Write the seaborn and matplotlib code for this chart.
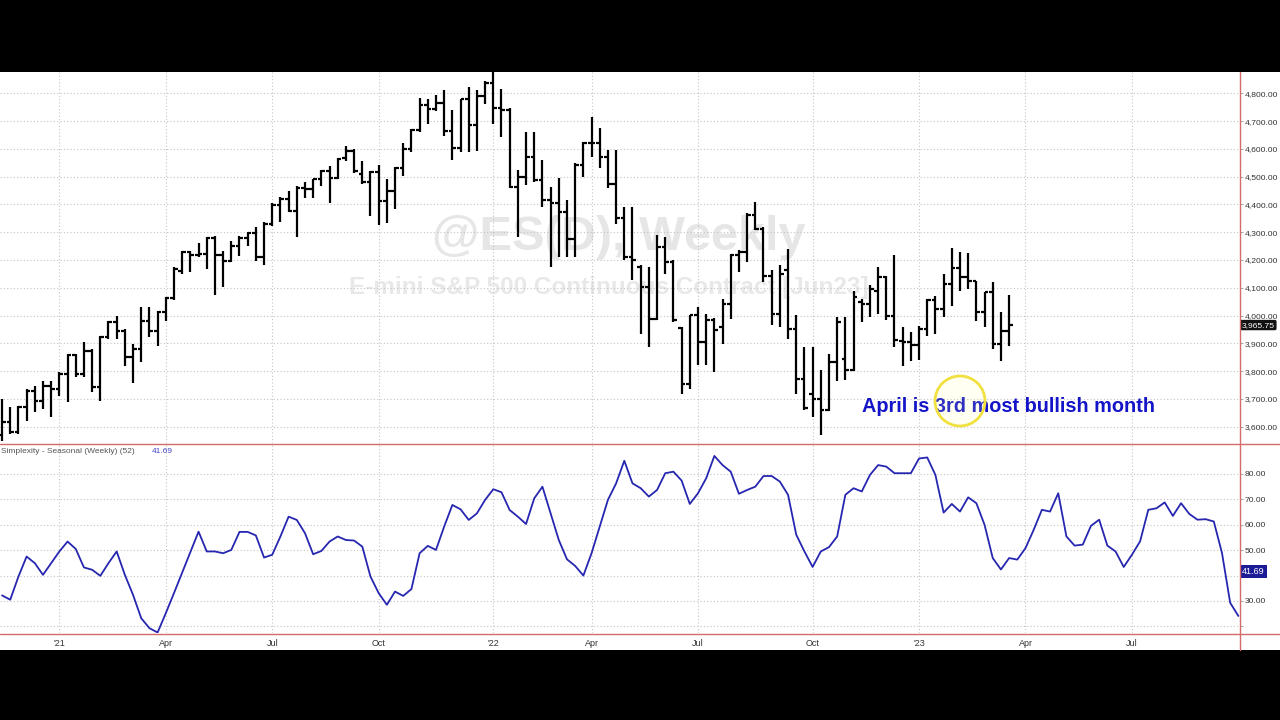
import numpy as np
import pandas as pd
import matplotlib
matplotlib.use("Agg")
import matplotlib.pyplot as plt
import matplotlib.transforms as mtransforms
from matplotlib.patches import Rectangle, Ellipse
from matplotlib.lines import Line2D
import seaborn as sns

# weekly bars, first bar dated Friday 2020-11-13
first_week = "2020-11-13"

opens = [3570, 3616, 3582, 3670, 3730, 3694, 3748, 3736, 3790, 3858,
         3790, 3874, 3742, 3922, 3975, 3946, 3850, 3880, 3982, 3946,
         4014, 4062, 4162, 4228, 4219, 4222, 4279, 4219, 4198, 4252,
         4279, 4297, 4210, 4330, 4399, 4420, 4378, 4459, 4454, 4490,
         4519, 4495, 4567, 4593, 4510, 4480, 4516, 4414, 4450, 4532,
         4600, 4667, 4757, 4745, 4766, 4663, 4603, 4778, 4687, 4790,
         4836, 4746, 4740, 4464, 4500, 4572, 4488, 4416, 4404, 4374,
         4277, 4542, 4622, 4622, 4572, 4473, 4350, 4211, 4175, 4103,
         3989, 4247, 4193, 3955, 3755, 4001, 3905, 3983, 3959, 4043,
         4217, 4229, 4362, 4313, 4142, 4007, 4163, 3953, 3773, 3719,
         3701, 3659, 3833, 3845, 3805, 4050, 4040, 4090, 4140, 4000,
         3910, 3903, 3895, 3950, 4055, 4023, 4112, 4170, 4140, 4123,
         4012, 4084, 3898, 3946]
highs = [3700, 3672, 3676, 3736, 3748, 3766, 3766, 3796, 3862, 3862,
         3904, 3880, 3928, 3980, 4000, 3952, 3898, 4030, 4030, 4018,
         4066, 4174, 4234, 4232, 4262, 4282, 4288, 4234, 4267, 4286,
         4300, 4318, 4336, 4405, 4426, 4450, 4468, 4480, 4492, 4525,
         4537, 4567, 4610, 4600, 4555, 4522, 4543, 4490, 4535, 4622,
         4670, 4783, 4781, 4795, 4811, 4739, 4781, 4823, 4811, 4845,
         4884, 4814, 4746, 4524, 4662, 4660, 4560, 4464, 4494, 4416,
         4548, 4626, 4716, 4674, 4596, 4596, 4392, 4392, 4181, 4175,
         4289, 4283, 4199, 3960, 4001, 4031, 4007, 3990, 4061, 4223,
         4235, 4368, 4410, 4318, 4163, 4181, 4241, 4001, 3887, 3887,
         3803, 3863, 3995, 3995, 4090, 4060, 4110, 4175, 4142, 4218,
         3960, 3940, 3964, 4060, 4072, 4150, 4245, 4230, 4225, 4125,
         4086, 4120, 4012, 4075]
lows = [3550, 3574, 3574, 3622, 3652, 3664, 3634, 3712, 3688, 3778,
        3778, 3724, 3694, 3916, 3916, 3820, 3757, 3834, 3922, 3892,
        3982, 4055, 4150, 4156, 4210, 4168, 4074, 4102, 4192, 4214,
        4252, 4198, 4183, 4322, 4336, 4372, 4282, 4423, 4423, 4468,
        4405, 4492, 4555, 4515, 4474, 4358, 4327, 4334, 4382, 4502,
        4589, 4661, 4691, 4735, 4646, 4559, 4589, 4589, 4591, 4760,
        4690, 4644, 4458, 4283, 4470, 4480, 4392, 4175, 4211, 4211,
        4211, 4500, 4572, 4530, 4458, 4331, 4199, 4127, 3935, 3887,
        3983, 4151, 3977, 3719, 3737, 3821, 3821, 3797, 3899, 3989,
        4157, 4193, 4307, 4121, 3965, 3959, 3917, 3719, 3660, 3635,
        3569, 3655, 3765, 3767, 3800, 3975, 3995, 4005, 3985, 3886,
        3820, 3835, 3840, 3925, 3932, 3995, 4036, 4090, 4096, 3982,
        3958, 3880, 3838, 3890]
closes = [3616, 3582, 3670, 3730, 3694, 3748, 3736, 3790, 3858, 3790,
          3874, 3742, 3922, 3975, 3946, 3850, 3880, 3982, 3946, 4014,
          4062, 4166, 4228, 4219, 4222, 4279, 4219, 4198, 4252, 4279,
          4297, 4210, 4330, 4399, 4420, 4378, 4459, 4454, 4490, 4519,
          4495, 4565, 4593, 4519, 4480, 4516, 4414, 4450, 4532, 4600,
          4667, 4757, 4745, 4766, 4663, 4603, 4778, 4687, 4790, 4836,
          4746, 4740, 4464, 4500, 4572, 4488, 4416, 4404, 4374, 4277,
          4542, 4622, 4622, 4572, 4473, 4350, 4211, 4199, 4103, 3989,
          4247, 4193, 3983, 3755, 4001, 3905, 3983, 3947, 4043, 4217,
          4229, 4362, 4313, 4142, 4007, 4151, 3953, 3773, 3668, 3701,
          3659, 3833, 3978, 3803, 4065, 4040, 4095, 4140, 4000, 3912,
          3903, 3895, 3950, 4055, 4023, 4112, 4170, 4140, 4123, 4012,
          4084, 3898, 3946, 3966]

seasonal = [32.2, 30.5, 39.6, 47.5, 44.9, 40.3, 44.9, 49.5, 53.4, 50.5,
            43.2, 42.3, 39.9, 44.9, 49.5, 40.3, 32.4, 23.2, 19.3, 17.6,
            25.2, 33.1, 41.2, 49.2, 57.3, 49.5, 49.5, 48.8, 50.1, 57.2,
            57.2, 55.8, 47.1, 48.2, 55.4, 63.2, 61.9, 56.7, 48.4, 49.7,
            53.4, 55.4, 54.0, 53.8, 51.4, 39.6, 33.1, 28.5, 33.7, 32.0,
            34.7, 48.8, 51.7, 50.1, 59.3, 67.8, 66.1, 61.9, 64.5, 69.8,
            74.0, 72.8, 65.8, 63.2, 60.3, 70.4, 75.0, 64.5, 54.0, 46.4,
            43.8, 40.0, 48.8, 59.3, 69.8, 76.3, 85.2, 76.3,
            74.4, 71.1, 73.7, 80.3, 80.9, 77.4, 68.2, 72.4, 78.3, 87.1,
            83.5, 80.9, 72.2, 73.7, 75.0, 79.2, 79.2, 77.0, 71.8, 56.1,
            49.5, 43.4, 49.5, 51.2, 55.4, 71.8, 74.4, 73.1, 79.6, 83.5,
            82.9, 80.3, 80.3, 80.3, 86.1, 86.5, 79.6, 64.8, 68.2, 65.2,
            70.8, 68.5, 60.0, 46.9, 42.4, 46.9, 46.3, 50.8, 58.0, 65.9,
            65.2, 72.4, 55.4, 51.8, 52.2, 59.6, 62.0, 51.8, 49.5, 43.4,
            48.2, 53.5, 65.9, 66.5, 68.8, 63.5, 68.5, 64.3, 62.0, 62.2,
            61.3, 48.9, 29.3, 24.1]

price_ticks = [3600, 3700, 3800, 3900, 4000, 4100, 4200, 4300,
               4400, 4500, 4600, 4700, 4800]
seasonal_grid = [20, 30, 40, 50, 60, 70, 80]
# 20 has no label, 40 sits under the last-value box
seasonal_labels = ["", "30.00", "", "50.00", "60.00", "70.00", "80.00"]
last_price = 3965.75
last_seasonal = 41.69

sns.set_theme(style="white")
plt.rcParams["font.family"] = ["Liberation Sans", "DejaVu Sans"]

W, H = 1280, 720
grid_kw = dict(color="#c4c4c4", linestyle=(0, (1, 2)), linewidth=0.8)
border = "#d46a6a"

n_all = len(seasonal)
weeks = pd.date_range(first_week, periods=n_all, freq="7D")
idx = np.arange(len(closes))
idx_all = np.arange(n_all)

# first bar of every month, quarterly ones get a label and a grid line
month_id = weeks.year * 12 + weeks.month
month_starts = [i for i in range(1, n_all - 1) if month_id[i] != month_id[i - 1]]
quarter_starts = [i for i in month_starts if weeks[i].month in (1, 4, 7, 10)]
quarter_labels = ["'" + weeks[i].strftime("%y") if weeks[i].month == 1
                  else weeks[i].strftime("%b") for i in quarter_starts]

fig = plt.figure(figsize=(12.8, 7.2), dpi=100, facecolor="black")
fig.patches.append(Rectangle((0, 1 - 650 / H), 1, (650 - 72) / H,
                             transform=fig.transFigure, facecolor="white",
                             edgecolor="none", zorder=-10))

ax1 = fig.add_axes([0, 1 - 443 / H, 1240 / W, (443 - 72) / H])
ax2 = fig.add_axes([0, 1 - 633 / H, 1240 / W, (633 - 444) / H], sharex=ax1)

# price panel: OHLC bars
ax1.vlines(idx, lows, highs, color="black", linewidth=1.6, zorder=3)
ax1.hlines(opens, idx - 0.45, idx, color="black", linewidth=1.6, zorder=3)
ax1.hlines(closes, idx, idx + 0.45, color="black", linewidth=1.6, zorder=3)

# seasonal panel
sns.lineplot(x=idx_all, y=seasonal, ax=ax2, color="#2626b0", linewidth=1.3,
             zorder=3)
ax2.set_xlabel("")
ax2.set_ylabel("")

for ax in (ax1, ax2):
    ax.set_facecolor("none")
    for s in ax.spines.values():
        s.set_visible(False)
    ax.yaxis.tick_right()
    ax.set_xticks(quarter_starts)
    ax.grid(True, axis="both", **grid_kw)
    ax.set_axisbelow(True)
    ax.tick_params(axis="y", which="major", direction="out", length=2.5,
                   width=0.6, color="#999999", labelsize=6.1,
                   labelcolor="#333333", pad=0.8)

ax1.set_xlim(-0.25, 151.2)
ax1.set_ylim(3541, 4877)
ax1.set_yticks(price_ticks)
ax1.set_yticklabels([f"{v:,.2f}" for v in price_ticks])
ax1.tick_params(axis="x", length=0, labelbottom=False)

ax2.set_ylim(17.4, 91.8)
ax2.set_yticks(seasonal_grid)
ax2.set_yticklabels(seasonal_labels)
ax2.set_xticks(month_starts, minor=True)
ax2.set_xticklabels(quarter_labels)
ax2.tick_params(axis="x", which="both", direction="out", length=3,
                width=0.6, color="#777777", labelsize=6.5,
                labelcolor="#333333", pad=1)

# watermark behind the bars
ax1.text(619 / 1240, 0.5526, "@ES(D), Weekly", transform=ax1.transAxes,
         ha="center", va="center", fontsize=35, fontweight="bold",
         color="#e6e6e6", zorder=0)
ax1.text(609 / 1240, 0.4178, "E-mini S&P 500 Continuous Contract [Jun23]",
         transform=ax1.transAxes, ha="center", va="center", fontsize=17.5,
         fontweight="bold", color="#e8e8e8", zorder=0)

ax1.text(1009 / 1240, 0.0997, "April is 3rd most bullish month",
         transform=ax1.transAxes, ha="center", va="center", fontsize=14.3,
         fontweight="bold", color="#1414c8", zorder=5)

# last value markers on the right scales
tr1 = mtransforms.blended_transform_factory(ax1.transAxes, ax1.transData)
ax1.text(1.0015, last_price, f"{last_price:,.2f}", transform=tr1,
         ha="left", va="center", fontsize=6.1, color="white", clip_on=False,
         bbox=dict(boxstyle="round,pad=0.2", fc="#111111", ec="none"),
         zorder=6)
tr2 = mtransforms.blended_transform_factory(ax2.transAxes, ax2.transData)
ax2.text(1.0015, last_seasonal, f"{last_seasonal:.2f}", transform=tr2,
         ha="left", va="center", fontsize=6.5, color="white", clip_on=False,
         bbox=dict(boxstyle="square,pad=0.25", fc="#1c1c96", ec="none"),
         zorder=6)

ax2.text(0.001, 0.962, "Simplexity - Seasonal (Weekly) (52)",
         transform=ax2.transAxes, ha="left", va="center", fontsize=6,
         color="#555555", zorder=5)
ax2.text(152 / 1240, 0.962, f"{last_seasonal:.2f}", transform=ax2.transAxes,
         ha="left", va="center", fontsize=6, color="#4848c8", zorder=5)

# panel borders
fig.add_artist(Line2D([0, 1], [1 - 443.5 / H] * 2, color=border, lw=1))
fig.add_artist(Line2D([0, 1], [1 - 633.5 / H] * 2, color=border, lw=1))
fig.add_artist(Line2D([1240 / W] * 2, [1 - 650 / H, 1 - 72 / H],
                      color=border, lw=1))

# cursor highlight from the recording
fig.add_artist(Ellipse((960 / W, 1 - 401 / H), 50 / W, 50 / H,
                       transform=fig.transFigure, facecolor=(1, 1, 0.6, 0.12),
                       edgecolor="#f0e040", lw=2))

fig.savefig("out.png", dpi=100, facecolor=fig.get_facecolor())
